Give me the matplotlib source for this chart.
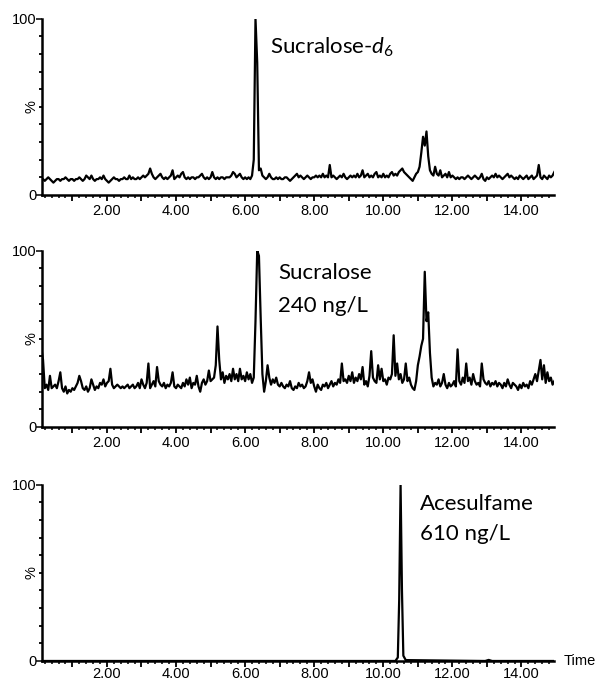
import numpy as np
import matplotlib
matplotlib.use("Agg")
import matplotlib.pyplot as plt
from matplotlib.ticker import MultipleLocator, FixedLocator

# -----------------------
# Data (relative intensity, %)
# scans every 0.05 min from 0.10 to 14.95 min
# -----------------------
scan_start = 0.10
scan_end = 14.95

sucralose_d6 = [
    9, 9, 8, 9, 10, 9, 8, 7, 8, 9, 9, 8, 9, 9, 10, 9, 8, 9, 9, 8,
    9, 9, 10, 9, 8, 9, 11, 10, 9, 11, 9, 8, 9, 9, 10, 9, 11, 9, 8, 7,
    8, 9, 10, 9, 9, 8, 9, 9, 10, 9, 9, 11, 9, 10, 9, 9, 10, 9, 10, 11,
    10, 11, 12, 15, 12, 10, 9, 10, 11, 12, 10, 9, 10, 9, 10, 11, 14, 9, 10, 11,
    10, 12, 13, 10, 9, 10, 9, 10, 10, 9, 10, 10, 11, 12, 10, 9, 10, 9, 10, 13,
    10, 9, 10, 9, 10, 10, 9, 10, 10, 10, 11, 13, 12, 10, 11, 12, 10, 9, 10, 9,
    10, 9, 11, 20, 100, 75, 14, 15, 11, 10, 9, 10, 12, 10, 9, 9, 10, 9, 10, 9,
    9, 10, 10, 9, 8, 9, 10, 11, 12, 10, 11, 10, 9, 10, 11, 10, 9, 10, 10, 11,
    10, 11, 10, 12, 10, 11, 10, 17, 10, 11, 10, 9, 10, 11, 10, 12, 10, 9, 10, 11,
    10, 11, 10, 12, 10, 11, 14, 10, 11, 12, 10, 11, 10, 12, 13, 10, 11, 10, 12, 10,
    11, 10, 12, 13, 11, 12, 11, 13, 14, 15, 13, 12, 11, 10, 9, 8, 10, 12, 13, 16,
    24, 33, 28, 36, 22, 14, 12, 11, 16, 12, 11, 14, 10, 11, 12, 10, 13, 10, 11, 10,
    9, 10, 9, 10, 10, 9, 10, 11, 10, 9, 10, 11, 10, 9, 10, 12, 9, 8, 10, 9,
    10, 11, 10, 12, 10, 11, 10, 9, 10, 11, 12, 10, 11, 10, 9, 10, 9, 11, 10, 9,
    10, 11, 9, 10, 11, 9, 10, 11, 17, 10, 9, 11, 10, 9, 11, 10, 11, 13,
]

sucralose = [
    45, 38, 22, 24, 21, 29, 22, 23, 24, 22, 26, 31, 22, 20, 23, 19, 21, 20, 22, 21,
    23, 25, 29, 26, 22, 21, 23, 20, 22, 27, 24, 21, 23, 22, 25, 24, 27, 23, 25, 26,
    33, 24, 22, 23, 24, 23, 22, 23, 22, 23, 24, 22, 23, 24, 22, 23, 25, 22, 27, 24,
    22, 25, 36, 22, 24, 26, 23, 34, 26, 24, 23, 25, 22, 24, 23, 25, 31, 23, 22, 24,
    23, 22, 25, 23, 27, 24, 28, 22, 25, 24, 29, 23, 20, 25, 27, 24, 26, 32, 26, 27,
    28, 35, 57, 38, 27, 31, 25, 29, 27, 30, 26, 33, 27, 30, 26, 33, 27, 29, 26, 31,
    27, 30, 25, 28, 60, 100, 97, 62, 30, 20, 26, 35, 28, 24, 27, 25, 28, 24, 23, 25,
    23, 22, 24, 23, 26, 22, 21, 23, 22, 25, 23, 24, 22, 23, 26, 31, 25, 27, 23, 20,
    24, 22, 21, 24, 23, 25, 22, 24, 26, 23, 25, 24, 27, 25, 36, 26, 27, 25, 29, 26,
    31, 25, 28, 26, 30, 27, 34, 24, 26, 23, 29, 43, 28, 26, 25, 35, 27, 33, 26, 27,
    24, 28, 27, 30, 52, 29, 36, 27, 30, 25, 27, 36, 26, 28, 24, 22, 21, 26, 35, 40,
    46, 50, 88, 60, 65, 42, 28, 23, 25, 24, 27, 23, 25, 30, 24, 22, 25, 23, 24, 26,
    23, 44, 26, 24, 28, 25, 36, 26, 28, 24, 30, 26, 24, 25, 23, 36, 27, 25, 24, 26,
    23, 25, 24, 26, 23, 25, 24, 22, 25, 23, 27, 24, 22, 25, 24, 23, 21, 24, 22, 25,
    23, 24, 22, 26, 24, 27, 30, 26, 32, 38, 27, 35, 25, 31, 26, 28, 24, 26,
]

# acesulfame trace is flat apart from the single peak
acesulfame_time = [0.10, 10.35, 10.42, 10.46, 10.50, 10.54, 10.58, 10.65, 12.95, 13.05, 13.15, 14.95]
acesulfame = [0, 0, 2, 35, 100, 40, 3, 0.5, 0, 0.6, 0, 0]

labels = [["Sucralose-$\\mathit{d}_6$"], ["Sucralose", "240 ng/L"], ["Acesulfame", "610 ng/L"]]

plt.rcParams["mathtext.fontset"] = "custom"
plt.rcParams["mathtext.rm"] = "Lato"
plt.rcParams["mathtext.it"] = "Lato:italic"

scan_time = np.linspace(scan_start, scan_end, len(sucralose))
traces = [(scan_time, sucralose_d6), (scan_time, sucralose), (acesulfame_time, acesulfame)]

fig = plt.figure(figsize=(5.95, 6.81), dpi=100)
boxes = [0.7137, 0.373, 0.0294]
label_x = [0.445, 0.461, 0.738]
label_y = [[0.835], [0.875, 0.687], [0.888, 0.719]]
tick_off = [-0.05, -0.05, -0.035]

for i, (t, y) in enumerate(traces):
    ax = fig.add_axes([0.0706, boxes[i], 0.861, 0.259])
    ax.plot(t, y, color="black", lw=1.6)
    ax.set_xlim(0.12, 14.95)
    ax.set_ylim(0, 100)
    for s in ["top", "right"]:
        ax.spines[s].set_visible(False)
    ax.spines["left"].set_linewidth(1.8)
    ax.spines["bottom"].set_linewidth(1.8)
    ax.xaxis.set_major_locator(MultipleLocator(1))
    ax.xaxis.set_minor_locator(MultipleLocator(0.2))
    ax.set_xticklabels([])
    ax.yaxis.set_major_locator(FixedLocator([0, 100]))
    ax.yaxis.set_minor_locator(MultipleLocator(10))
    ax.set_yticklabels(["0", "100"], fontsize=10.5, family="Liberation Sans")
    ax.tick_params(axis="x", which="major", length=4, width=1.3, direction="out")
    ax.tick_params(axis="x", which="minor", length=2.5, width=1.1, direction="out")
    ax.tick_params(axis="y", which="major", length=4, width=1.1, direction="out", pad=0)
    ax.tick_params(axis="y", which="minor", length=2.5, width=1.3, direction="out")
    for v in range(2, 15, 2):
        ax.text(v, tick_off[i], "%.2f" % v, transform=ax.get_xaxis_transform(),
                ha="center", va="top", fontsize=10.5, family="Liberation Sans")
    ax.text(-0.02, 0.5, "%", transform=ax.transAxes, rotation=90,
            ha="center", va="center", fontsize=10.5, family="Liberation Sans")
    for line, ly in zip(labels[i], label_y[i]):
        ax.text(label_x[i], ly, line, transform=ax.transAxes,
                ha="left", va="center", fontsize=16, family="Lato")

ax.text(1.018, 0.0, "Time", transform=ax.transAxes, ha="left", va="center",
        fontsize=10.5, family="Liberation Sans")

fig.savefig("out.png", dpi=100)
